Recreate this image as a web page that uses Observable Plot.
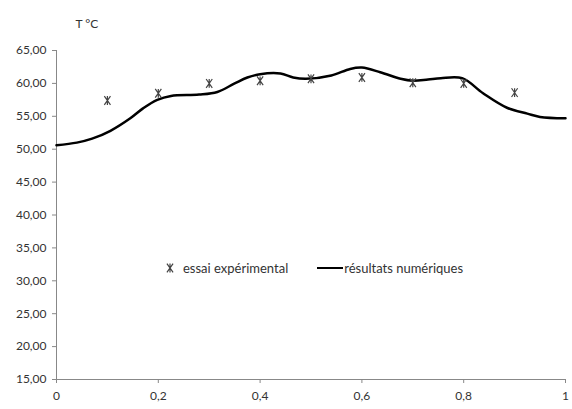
<!DOCTYPE html>
<html>
<head>
<meta charset="utf-8">
<script src="https://cdn.jsdelivr.net/npm/d3@7"></script>
<script src="https://cdn.jsdelivr.net/npm/@observablehq/plot@0.6"></script>
<style>
  body { margin: 0; background: #fff; }
  #wrap { position: relative; width: 572px; height: 409px; font-family: Lato, "Open Sans", sans-serif; }
  #legend { position: absolute; left: 164px; top: 260px; font-size: 13px; line-height: 16px; color: #333; display: flex; align-items: center; white-space: nowrap; }
  #legend .line { display: inline-block; width: 26px; height: 0; border-top: 2.5px solid #000; margin-left: 29px; margin-right: 1px; }
  #legend svg { margin-right: 7px; }
</style>
</head>
<body>
<div id="wrap">
  <div id="legend"></div>
</div>
<script>
const expX = [0.1, 0.2, 0.3, 0.4, 0.5, 0.6, 0.7, 0.8, 0.9];
const expT = [57.4, 58.5, 60.0, 60.4, 60.7, 60.9, 60.1, 60.0, 58.6];

const numX = [0, 0.04, 0.07, 0.106, 0.145, 0.17, 0.198, 0.225, 0.28, 0.316, 0.35, 0.375, 0.4, 0.44, 0.465, 0.49, 0.54, 0.577, 0.6, 0.636, 0.676, 0.7, 0.73, 0.755, 0.797, 0.838, 0.885, 0.925, 0.95, 1.0];
const numT = [50.6, 51.0, 51.6, 52.8, 54.7, 56.2, 57.5, 58.1, 58.3, 58.7, 60.0, 60.9, 61.4, 61.5, 60.9, 60.7, 61.2, 62.2, 62.4, 61.7, 60.7, 60.4, 60.6, 60.8, 60.8, 58.5, 56.3, 55.4, 54.9, 54.7];

const xTicks = [0, 0.2, 0.4, 0.6, 0.8, 1];
const xTickLabels = ["0", "0,2", "0,4", "0,6", "0,8", "1"];
const yTicks = [15, 20, 25, 30, 35, 40, 45, 50, 55, 60, 65];
const yTickLabels = ["15,00", "20,00", "25,00", "30,00", "35,00", "40,00", "45,00", "50,00", "55,00", "60,00", "65,00"];

const yLabel = "T °C";
const legendExp = "essai expérimental";
const legendNum = "résultats numériques";

const exp = expX.map((x, i) => ({x, t: expT[i]}));
const num = numX.map((x, i) => ({x, t: numT[i]}));

// Excel-like "star" marker: narrow X with a vertical stroke
const star = {
  draw(context, size) {
    const h = Math.sqrt(size) * 0.55;
    const w = h * 0.7;
    context.moveTo(-w, -h); context.lineTo(w, h);
    context.moveTo(w, -h); context.lineTo(-w, h);
    context.moveTo(0, -h); context.lineTo(0, h);
  }
};

const chart = Plot.plot({
  width: 572,
  height: 409,
  marginLeft: 56,
  marginRight: 7,
  marginTop: 50,
  marginBottom: 30,
  style: { fontFamily: "Lato, 'Open Sans', sans-serif", fontSize: "12px", color: "#333", background: "#fff" },
  x: { domain: [0, 1], label: null },
  y: { domain: [15, 65], label: null },
  marks: [
    Plot.ruleX([0], { stroke: "#888", strokeWidth: 1 }),
    Plot.ruleY([15], { stroke: "#888", strokeWidth: 1 }),
    Plot.axisY({ ticks: yTicks, tickFormat: (d) => yTickLabels[yTicks.indexOf(d)], tickSize: 4, tickPadding: 6, stroke: "#888", fill: "#333", fontSize: 12, label: null }),
    Plot.axisX({ ticks: xTicks, tickFormat: (d) => xTickLabels[xTicks.indexOf(d)], tickSize: 4, tickPadding: 8, stroke: "#888", fill: "#333", fontSize: 12, label: null }),
    Plot.line(num, { x: "x", y: "t", curve: "catmull-rom", stroke: "#000", strokeWidth: 2.5 }),
    Plot.dot(exp, { x: "x", y: "t", symbol: star, r: 4.5, stroke: "#444", strokeWidth: 1.2 }),
    Plot.text([yLabel], { frameAnchor: "top-left", dx: 19, dy: -31, textAnchor: "start", fontSize: 12, fill: "#333" })
  ]
});

const wrap = document.getElementById("wrap");
wrap.insertBefore(chart, wrap.firstChild);

const legend = document.getElementById("legend");
const sym = d3.create("svg").attr("width", 12).attr("height", 12);
sym.append("path").attr("transform", "translate(6,6)").attr("d", d3.symbol(star, 4.5 * 4.5 * Math.PI)()).attr("stroke", "#444").attr("stroke-width", 1.2).attr("fill", "none");
legend.appendChild(sym.node());
const s1 = document.createElement("span"); s1.textContent = legendExp; legend.appendChild(s1);
const ln = document.createElement("span"); ln.className = "line"; legend.appendChild(ln);
const s2 = document.createElement("span"); s2.textContent = legendNum; legend.appendChild(s2);
</script>
</body>
</html>
